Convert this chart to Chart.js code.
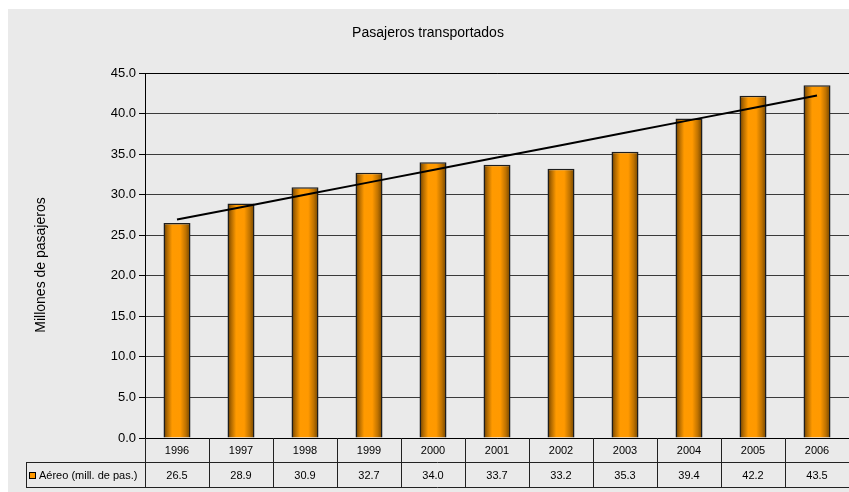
<!DOCTYPE html>
<html>
<head>
<meta charset="utf-8">
<script src="https://cdn.jsdelivr.net/npm/chart.js@4.4.1/dist/chart.umd.min.js"></script>
<style>
  html, body { margin: 0; padding: 0; background: #ffffff; }
  #wrap { width: 849px; height: 492px; position: relative; }
</style>
</head>
<body>
<div id="wrap"><canvas id="chart" width="849" height="492"></canvas></div>
<script>
// Data
const years = ['1996', '1997', '1998', '1999', '2000', '2001', '2002', '2003', '2004', '2005', '2006'];
const aereo = [26.5, 28.9, 30.9, 32.7, 34.0, 33.7, 33.2, 35.3, 39.4, 42.2, 43.5];
const yTicks = [0, 5, 10, 15, 20, 25, 30, 35, 40, 45];
const seriesLabel = 'Aéreo (mill. de pas.)';

const FONT = '"Liberation Sans", Arial, sans-serif';
const BG = '#eaeaea';

// Linear trend line (least squares over the series)
function linearTrend(values) {
    const n = values.length;
    let sx = 0, sy = 0, sxy = 0, sxx = 0;
    values.forEach((v, i) => { sx += i; sy += v; sxy += i * v; sxx += i * i; });
    const slope = (n * sxy - sx * sy) / (n * sxx - sx * sx);
    const icpt = (sy - slope * sx) / n;
    return values.map((_, i) => icpt + slope * i);
}

// Cylinder-like horizontal gradient for each bar
function barGradient(context) {
    const chart = context.chart;
    const xScale = chart.scales.x;
    if (!xScale || context.dataIndex === undefined) return '#ff9900';
    const cx = xScale.getPixelForValue(context.dataIndex);
    if (!isFinite(cx)) return '#ff9900';
    const w = 27;
    const g = chart.ctx.createLinearGradient(cx - w / 2, 0, cx + w / 2, 0);
    g.addColorStop(0, '#5a3600');
    g.addColorStop(0.12, '#a86400');
    g.addColorStop(0.32, '#ff9a00');
    g.addColorStop(0.62, '#ff9900');
    g.addColorStop(0.82, '#c07300');
    g.addColorStop(1, '#6e4300');
    return g;
}

const frame = {
    id: 'frame',
    beforeDraw(chart) {
        const ctx = chart.ctx;
        ctx.save();
        ctx.fillStyle = '#ffffff';
        ctx.fillRect(0, 0, chart.width, chart.height);
        ctx.fillStyle = BG;
        ctx.fillRect(8, 9, chart.width - 8, chart.height - 9);
        ctx.restore();
    },
    afterDraw(chart) {
        const ctx = chart.ctx;
        const a = chart.chartArea;
        const xs = chart.scales.x;
        const step = (a.right - a.left) / years.length;
        const r1 = a.bottom, r2 = a.bottom + 24, r3 = a.bottom + 49;
        ctx.save();

        // title
        ctx.fillStyle = '#000';
        ctx.textAlign = 'center';
        ctx.textBaseline = 'middle';
        ctx.font = '14px ' + FONT;
        ctx.fillText('Pasajeros transportados', 428, 33);

        // y-axis title
        ctx.save();
        ctx.translate(41, 265);
        ctx.rotate(-Math.PI / 2);
        ctx.fillText('Millones de pasajeros', 0, 0);
        ctx.restore();

        // plot border
        ctx.strokeStyle = '#000';
        ctx.lineWidth = 1;
        ctx.beginPath();
        ctx.moveTo(a.left + 0.5, a.top + 0.5);
        ctx.lineTo(a.right, a.top + 0.5);
        ctx.moveTo(a.left + 0.5, a.bottom + 0.5);
        ctx.lineTo(a.right, a.bottom + 0.5);
        ctx.stroke();

        // data table lines
        ctx.strokeStyle = '#222';
        ctx.beginPath();
        for (let k = 0; k <= years.length; k++) {
            const x = Math.round(a.left + k * step) + 0.5;
            ctx.moveTo(x, r1);
            ctx.lineTo(x, r3);
        }
        ctx.moveTo(26.5, r2);
        ctx.lineTo(26.5, r3);
        ctx.moveTo(26, r2 + 0.5);
        ctx.lineTo(a.right, r2 + 0.5);
        ctx.moveTo(26, r3 + 0.5);
        ctx.lineTo(a.right, r3 + 0.5);
        ctx.stroke();

        // table texts
        ctx.fillStyle = '#000';
        ctx.font = '11px ' + FONT;
        ctx.textAlign = 'center';
        years.forEach((y, i) => {
            const cx = xs.getPixelForValue(i);
            ctx.fillText(y, cx, (r1 + r2) / 2 + 1);
            ctx.fillText(aereo[i].toFixed(1), cx, (r2 + r3) / 2 + 1);
        });

        // legend key
        ctx.fillStyle = '#ff9900';
        ctx.fillRect(29, 472, 7, 7);
        ctx.strokeStyle = '#000';
        ctx.strokeRect(29.5, 472.5, 6, 6);
        ctx.fillStyle = '#000';
        ctx.textAlign = 'left';
        ctx.fillText(seriesLabel, 39, (r2 + r3) / 2 + 1);

        ctx.restore();
    }
};

new Chart(document.getElementById('chart'), {
    type: 'bar',
    data: {
        labels: years,
        datasets: [
            {
                type: 'line',
                label: 'Tendencia',
                data: linearTrend(aereo),
                borderColor: '#000',
                borderWidth: 2,
                pointRadius: 0,
                fill: false,
                order: 0
            },
            {
                type: 'bar',
                label: seriesLabel,
                data: aereo,
                backgroundColor: barGradient,
                borderColor: '#1e1e1e',
                borderWidth: 1.5,
                borderSkipped: 'bottom',
                categoryPercentage: 1,
                barPercentage: 27 / 64,
                order: 1
            }
        ]
    },
    options: {
        responsive: false,
        animation: false,
        layout: { padding: { left: 8, top: 73, right: 0, bottom: 54 } },
        plugins: {
            legend: { display: false },
            title: { display: false },
            tooltip: { enabled: false }
        },
        scales: {
            x: {
                display: false,
                offset: true
            },
            y: {
                min: 0,
                max: 45,
                afterFit(scale) { scale.width = 137; },
                afterBuildTicks(scale) { scale.ticks = yTicks.map(v => ({ value: v })); },
                border: { display: true, color: '#000', width: 1 },
                grid: {
                    color: '#3a3a3a',
                    lineWidth: 1,
                    drawTicks: true,
                    tickLength: 6,
                    tickColor: '#000'
                },
                ticks: {
                    color: '#000',
                    padding: 3,
                    font: { family: FONT, size: 13 },
                    callback: v => Number(v).toFixed(1)
                }
            }
        }
    },
    plugins: [frame]
});
</script>
</body>
</html>
